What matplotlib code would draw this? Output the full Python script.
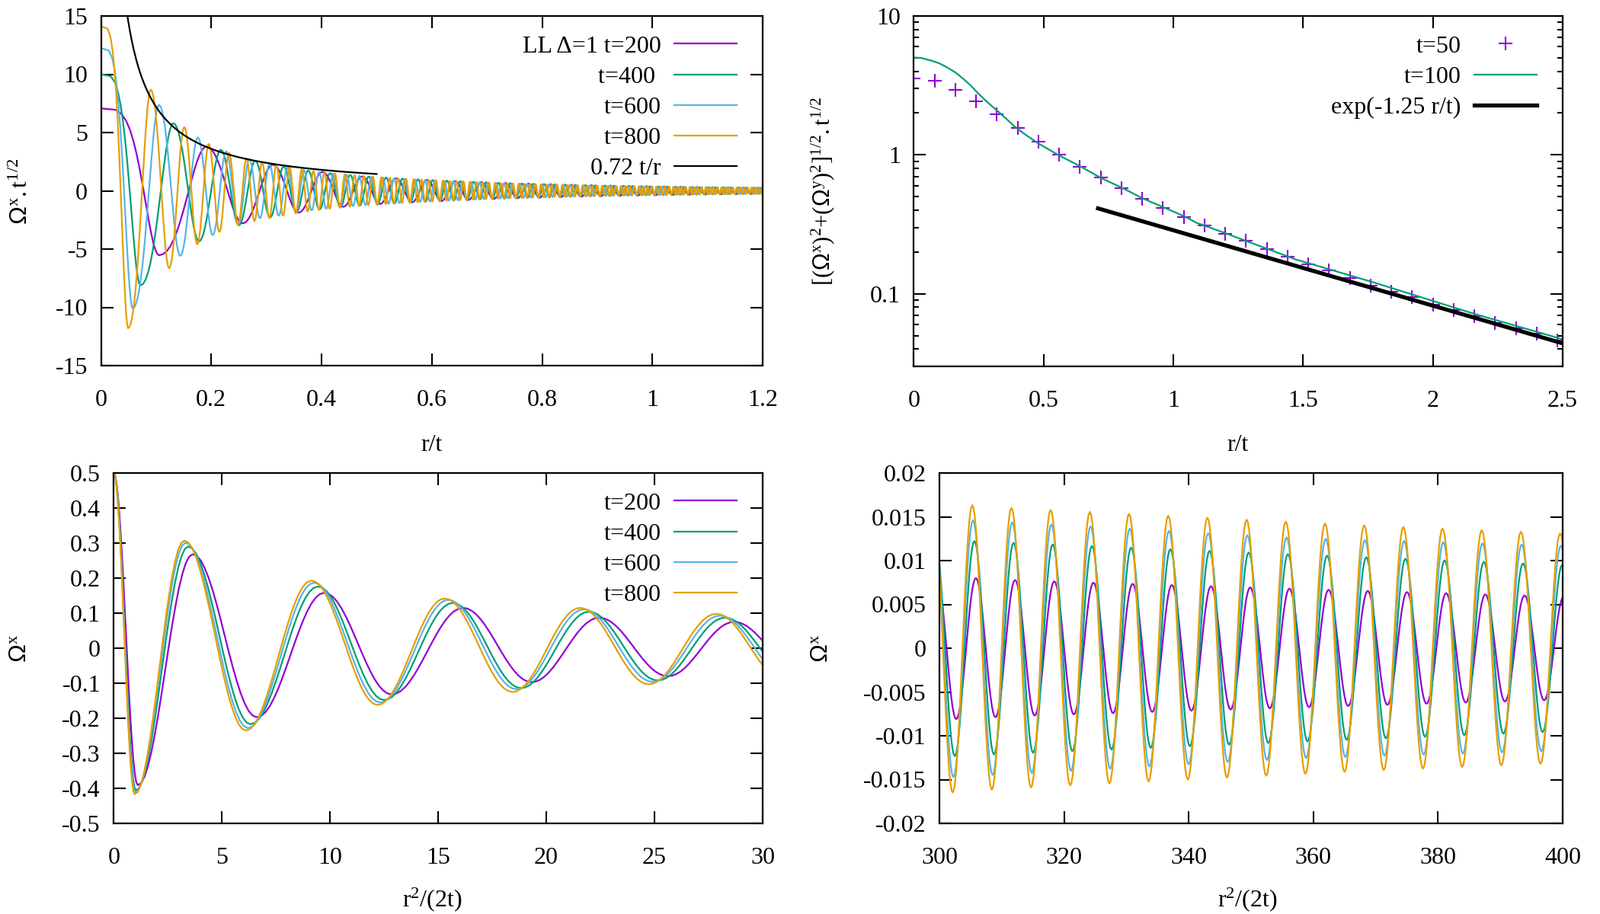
import numpy as np
import matplotlib
matplotlib.use('Agg')
import matplotlib.pyplot as plt
from matplotlib.ticker import FuncFormatter, MultipleLocator, LogLocator, NullFormatter

plt.rcParams['font.family'] = ['Liberation Serif', 'DejaVu Serif']
plt.rcParams['mathtext.fontset'] = 'custom'
plt.rcParams['mathtext.rm'] = 'Liberation Serif'
plt.rcParams['mathtext.it'] = 'Liberation Serif:italic'
plt.rcParams['mathtext.sf'] = 'Liberation Sans'
plt.rcParams['axes.unicode_minus'] = False
plt.rcParams['font.size'] = 23

# ---- data ----
times = [200, 400, 600, 800]
colors = ['#9400d3', '#009e73', '#56b4e9', '#e69f00']
labels_top = ['LL \u0394=1 t=200', 't=400 ', 't=600', 't=800']
labels_bot = ['t=200', 't=400', 't=600', 't=800']

# extrema of Omega^x vs r^2/(2t) for x <= 30 (lower left panel)
ext_x_200 = [0, 1.11, 3.65, 6.61, 9.73, 12.85, 16.15, 19.32, 22.44, 25.62, 28.68]
ext_v_200 = [0.5, -0.391, 0.268, -0.197, 0.158, -0.132, 0.115, -0.097, 0.087, -0.080, 0.075]
ext_x_400 = [0, 1.02, 3.44, 6.32, 9.44, 12.50, 15.67, 18.83, 21.97, 25.15, 28.26]
ext_v_400 = [0.5, -0.406, 0.290, -0.217, 0.176, -0.148, 0.129, -0.114, 0.104, -0.092, 0.087]
ext_x_600 = [0, 0.99, 3.32, 6.20, 9.26, 12.32, 15.46, 18.62, 21.73, 24.91, 28.03]
ext_v_600 = [0.5, -0.412, 0.301, -0.228, 0.187, -0.155, 0.138, -0.117, 0.111, -0.096, 0.093]
ext_x_800 = [0, 0.97, 3.26, 6.11, 9.14, 12.20, 15.30, 18.44, 21.56, 24.74, 27.85]
ext_v_800 = [0.5, -0.417, 0.307, -0.235, 0.193, -0.162, 0.142, -0.125, 0.115, -0.103, 0.098]
ext_x = [ext_x_200, ext_x_400, ext_x_600, ext_x_800]
ext_v = [ext_v_200, ext_v_400, ext_v_600, ext_v_800]

# lower right panel: first peak after 300, peak spacing, amplitudes at 300 and 400
p4_peak0 = [305.85, 305.61, 305.39, 305.27]
p4_period = 6.288
p4_amp_300 = [0.0082, 0.0124, 0.0148, 0.0166]
p4_amp_400 = [0.0059, 0.0095, 0.0117, 0.0131]

# upper right panel: t=100 envelope and t=50 points
env_u = [0, 0.03, 0.07, 0.10, 0.13, 0.16, 0.19, 0.22, 0.25, 0.28, 0.32, 0.355, 0.39,
         0.43, 0.48, 0.56, 0.64, 0.72, 0.81, 0.88, 0.96, 1.04, 1.09, 1.18, 1.47,
         1.77, 2.16, 2.5]
env_A = [5.02, 4.98, 4.76, 4.55, 4.25, 3.93, 3.54, 3.15, 2.75, 2.43, 2.09, 1.83, 1.59,
         1.40, 1.21, 0.99, 0.83, 0.684, 0.57, 0.488, 0.421, 0.363, 0.324, 0.282, 0.177,
         0.121, 0.0716, 0.047]
t50_u = [0, 0.08, 0.16, 0.24, 0.32, 0.40, 0.48, 0.56, 0.64, 0.72, 0.80, 0.88,
         0.96, 1.04, 1.12, 1.20, 1.28, 1.36, 1.44, 1.52, 1.60, 1.68, 1.76, 1.84,
         1.92, 2.00, 2.08, 2.16, 2.24, 2.32, 2.40, 2.48]
t50_A = [3.57, 3.40, 2.93, 2.44, 1.96, 1.56, 1.245, 1.0, 0.82, 0.684, 0.573, 0.484,
         0.415, 0.358, 0.310, 0.271, 0.240, 0.210, 0.185, 0.163, 0.148, 0.130, 0.115, 0.103,
         0.0942, 0.0838, 0.0763, 0.0693, 0.0618, 0.0561, 0.0515, 0.0459]


def build_extrema(i):
    t = times[i]
    xs = list(ext_x[i])
    vs = list(ext_v[i])
    xL = xs[-1]
    sq = np.sqrt(t)

    def env(x):
        return np.interp(np.sqrt(2 * x / t), env_u, env_A) / sq

    p_first = p4_peak0[i] - 2 * p4_period
    n = int(round((p_first - xL) / np.pi / 2)) * 2
    bridge = xL + (p_first - xL) * np.arange(1, n + 1) / n
    after = p_first + 0.5 * p4_period * np.arange(1, 200)
    new_x = np.concatenate([bridge, after])
    new_x = new_x[new_x < max(0.72 * t, 400) + 10]
    r0 = vs[-1] / env(xL)
    r1 = p4_amp_300[i] / env(300.0)
    r2 = p4_amp_400[i] / env(400.0)
    amp = env(new_x) * np.interp(new_x, [xL, 300.0, 400.0], [r0, r1, r2])
    sign = (-1.0) ** np.arange(1, len(new_x) + 1)
    return np.array(xs + list(new_x)), np.array(vs + list(sign * amp))


def trace(ex, ev, m=16):
    s = np.linspace(0, 1, m, endpoint=False)
    w = (1 - np.cos(np.pi * s)) / 2
    dx = ex[1:] - ex[:-1]
    dv = ev[1:] - ev[:-1]
    xs = (ex[:-1, None] + dx[:, None] * s).ravel()
    vs = (ev[:-1, None] + dv[:, None] * w).ravel()
    return np.append(xs, ex[-1]), np.append(vs, ev[-1])


def gfmt(v, pos):
    if abs(v) < 1e-9:
        return '0'
    return '%g' % round(v, 9)


def style(ax):
    ax.tick_params(which='both', direction='in', top=True, right=True, width=1.5)
    ax.tick_params(which='major', length=11.3)
    ax.tick_params(which='minor', length=5.3)
    ax.tick_params(axis='x', pad=22, labelsize=23)
    ax.tick_params(axis='y', pad=12.5, labelsize=23)
    for sp in ax.spines.values():
        sp.set_linewidth(1.6)


fig = plt.figure(figsize=(21, 12), dpi=100)
W, H = 2100.0, 1200.0
ax1 = fig.add_axes([132.5 / W, 1 - 480 / H, 868.5 / W, 459 / H])
ax2 = fig.add_axes([1199.3 / W, 1 - 481 / H, 851.7 / W, 460 / H])
ax3 = fig.add_axes([149.3 / W, 1 - 1081 / H, 851.7 / W, 460 / H])
ax4 = fig.add_axes([1233 / W, 1 - 1081 / H, 818 / W, 460 / H])

leg_kw = dict(loc='upper right', frameon=False, markerfirst=False, handlelength=2.56,
              handletextpad=0.55, labelspacing=0.34, borderpad=0, borderaxespad=0,
              fontsize=23, numpoints=1)

curves = [trace(*build_extrema(i)) for i in range(4)]

# ---- top left: Omega^x t^1/2 vs r/t ----
for i, t in enumerate(times):
    x, v = curves[i]
    ax1.plot(np.sqrt(2 * x / t), v * np.sqrt(t), color=colors[i], lw=1.6, label=labels_top[i])
u_fit = np.linspace(0.72 / 15.5, 0.5, 300)
ax1.plot(u_fit, 0.72 / u_fit, color='black', lw=1.6, label='0.72 t/r')
ax1.set_xlim(0, 1.2)
ax1.set_ylim(-15, 15)
ax1.xaxis.set_major_locator(MultipleLocator(0.2))
ax1.yaxis.set_major_locator(MultipleLocator(5))
ax1.legend(bbox_to_anchor=(0.961, 0.945), **leg_kw)

# ---- top right: envelope, log scale ----
ax2.plot(t50_u, t50_A, ls='none', marker='+', ms=13, mew=1.5, color=colors[0], label='t=50')
ax2.plot(env_u, env_A, color=colors[1], lw=1.6, label='t=100')
u_exp = np.linspace(0.71, 2.5, 100)
ax2.plot(u_exp, np.exp(-1.25 * u_exp), color='black', lw=3.8, label='exp(-1.25 r/t)')
ax2.set_yscale('log')
ax2.set_xlim(0, 2.5)
ax2.set_ylim(0.03, 10)
ax2.xaxis.set_major_locator(MultipleLocator(0.5))
ax2.yaxis.set_major_locator(LogLocator(base=10))
ax2.yaxis.set_minor_locator(LogLocator(base=10, subs=np.arange(2, 10)))
ax2.yaxis.set_minor_formatter(NullFormatter())
ax2.legend(bbox_to_anchor=(0.960, 0.945), **leg_kw)

# ---- bottom left: Omega^x vs r^2/(2t), small x ----
for i in range(4):
    x, v = curves[i]
    sel = x <= 32
    ax3.plot(x[sel], v[sel], color=colors[i], lw=1.6, label=labels_bot[i])
ax3.set_xlim(0, 30)
ax3.set_ylim(-0.5, 0.5)
ax3.xaxis.set_major_locator(MultipleLocator(5))
ax3.yaxis.set_major_locator(MultipleLocator(0.1))
ax3.legend(bbox_to_anchor=(0.960, 0.945), **leg_kw)

# ---- bottom right: Omega^x vs r^2/(2t), large x ----
for i in range(4):
    x, v = curves[i]
    sel = (x >= 290) & (x <= 410)
    ax4.plot(x[sel], v[sel], color=colors[i], lw=1.6)
ax4.set_xlim(300, 400)
ax4.set_ylim(-0.02, 0.02)
ax4.xaxis.set_major_locator(MultipleLocator(20))
ax4.yaxis.set_major_locator(MultipleLocator(0.005))

for ax in (ax1, ax2, ax3, ax4):
    style(ax)
    ax.xaxis.set_major_formatter(FuncFormatter(gfmt))
    ax.yaxis.set_major_formatter(FuncFormatter(gfmt))

om = r'\mathsf{\Omega}'
fig.text(28 / W, 1 - 251 / H, r'$%s^{\mathrm{x}}\mathrm{.t}^{\mathrm{1/2}}$' % om,
         rotation=90, ha='center', va='center', fontsize=23)
fig.text(1080 / W, 1 - 251 / H,
         r'$\mathrm{[(}%s^{\mathrm{x}}\mathrm{)}^{\mathrm{2}}\mathrm{+(}%s^{\mathrm{y}}\mathrm{)}^{\mathrm{2}}'
         r'\mathrm{]}^{\mathrm{1/2}}\mathrm{.t}^{\mathrm{1/2}}$' % (om, om),
         rotation=90, ha='center', va='center', fontsize=22)
fig.text(27 / W, 1 - 851 / H, r'$%s^{\mathrm{x}}$' % om,
         rotation=90, ha='center', va='center', fontsize=23)
fig.text(1078 / W, 1 - 851 / H, r'$%s^{\mathrm{x}}$' % om,
         rotation=90, ha='center', va='center', fontsize=23)

fig.text(567 / W, 1 - 584 / H, 'r/t', ha='center', va='center', fontsize=23)
fig.text(1625 / W, 1 - 584 / H, 'r/t', ha='center', va='center', fontsize=23)
fig.text(567 / W, 1 - 1181 / H, r'r$^{\mathrm{2}}$/(2t)', ha='center', va='center', fontsize=23)
fig.text(1637 / W, 1 - 1181 / H, r'r$^{\mathrm{2}}$/(2t)', ha='center', va='center', fontsize=23)

fig.savefig('out.png', dpi=100)
